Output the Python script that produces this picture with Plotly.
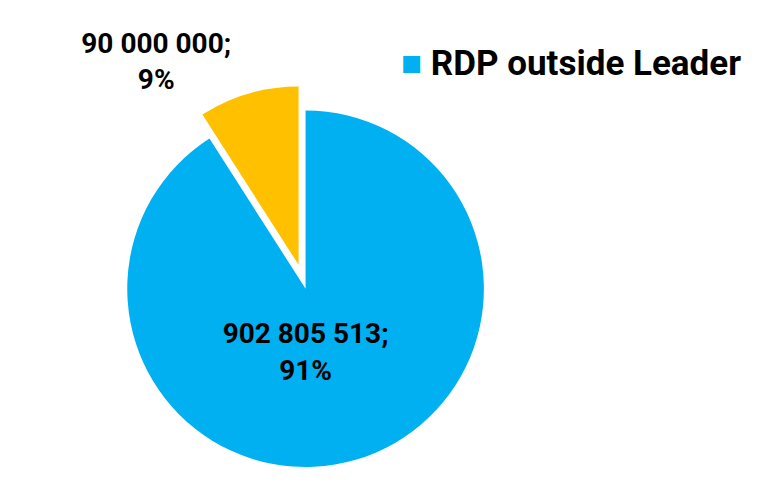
import plotly.graph_objects as go

labels = ["RDP outside Leader", "Other"]
values = [902805513, 90000000]
colors = ["#00B0F0", "#FFC000"]
pulls = [0, 0.14]
text_positions = ["inside", "outside"]

fig = go.Figure(go.Pie(
    labels=labels,
    values=values,
    sort=False,
    direction="clockwise",
    rotation=0,
    pull=pulls,
    marker=dict(colors=colors, line=dict(width=0)),
    texttemplate="%{value:,.0f};<br>%{percent:.0%}",
    textposition=text_positions,
    textfont=dict(family="Roboto", size=28, color="black", weight="bold"),
    insidetextorientation="horizontal",
    showlegend=False,
    hoverinfo="label+value+percent",
    domain=dict(x=[0.0, 0.78], y=[0.0, 0.84]),
))

fig.add_annotation(
    x=0.512, y=0.886, xref="paper", yref="paper", xanchor="left", yanchor="middle",
    text="<span style='color:%s'>■</span> %s" % (colors[0], labels[0]),
    showarrow=False,
    font=dict(family="Roboto", size=35, color="black", weight="bold"),
)

fig.update_layout(
    width=763, height=484,
    margin=dict(l=0, r=0, t=0, b=0, autoexpand=False),
    paper_bgcolor="white",
    plot_bgcolor="white",
    separators=", ",
)

fig.write_html("out.html")
